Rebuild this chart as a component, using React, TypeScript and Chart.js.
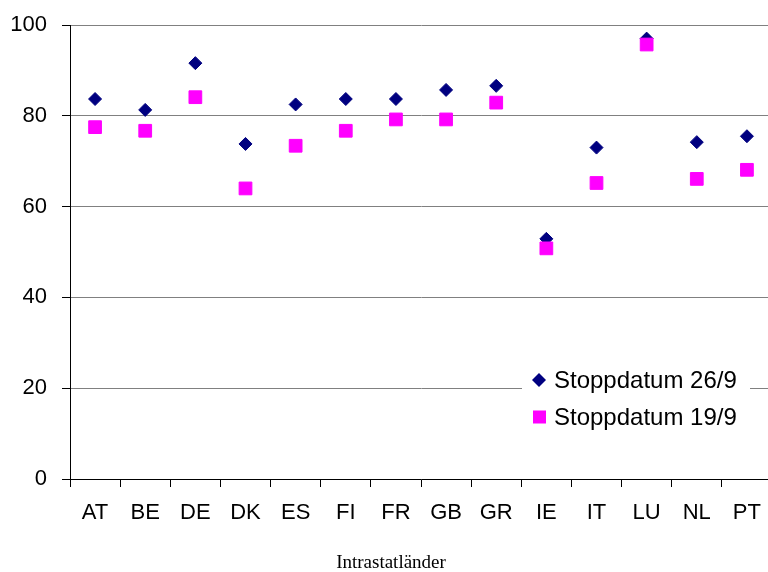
import React, { useEffect, useRef } from "react";
import { Chart, registerables } from "chart.js";

Chart.register(...registerables);

const categories = ["AT", "BE", "DE", "DK", "ES", "FI", "FR", "GB", "GR", "IE", "IT", "LU", "NL", "PT"];
const stopp269 = [83.7, 81.3, 91.6, 73.8, 82.5, 83.7, 83.7, 85.7, 86.6, 52.9, 73.0, 97.0, 74.2, 75.5];
const stopp199 = [77.5, 76.7, 84.1, 64.0, 73.4, 76.7, 79.2, 79.2, 82.9, 50.8, 65.2, 95.7, 66.1, 68.1];
const seriesNames = ["Stoppdatum 26/9", "Stoppdatum 19/9"];
const yTicks = [0, 20, 40, 60, 80, 100];
const xTitle = "Intrastatländer";

const NAVY = "#000080";
const MAGENTA = "#FF00FF";
const SANS = "'Liberation Sans', Arial, sans-serif";
const CANVAS_W = 782;

const overlayPlugin = {
  id: "overlay",
  afterDraw(chart: any) {
    const ctx = chart.ctx;
    ctx.save();
    // legend box
    ctx.fillStyle = "#ffffff";
    ctx.fillRect(522, 362, 228, 74);
    const items = [
      { label: seriesNames[0], color: NAVY, style: "diamond", y: 380 },
      { label: seriesNames[1], color: MAGENTA, style: "square", y: 417 },
    ];
    ctx.font = `24px ${SANS}`;
    ctx.textBaseline = "middle";
    ctx.textAlign = "left";
    for (const it of items) {
      ctx.fillStyle = it.color;
      if (it.style === "diamond") {
        ctx.beginPath();
        ctx.moveTo(539 - 7, it.y);
        ctx.lineTo(539, it.y - 7);
        ctx.lineTo(539 + 7, it.y);
        ctx.lineTo(539, it.y + 7);
        ctx.closePath();
        ctx.fill();
      } else {
        ctx.fillRect(533, it.y - 6.5, 13, 13);
      }
      ctx.fillStyle = "#000";
      ctx.fillText(it.label, 554, it.y + 1);
    }
    // axis title
    ctx.font = `19px 'Liberation Serif', 'Times New Roman', serif`;
    ctx.textAlign = "center";
    ctx.fillStyle = "#000";
    ctx.fillText(xTitle, 391, 563);
    ctx.restore();
  },
};

export default function App() {
  const ref = useRef<HTMLCanvasElement | null>(null);
  useEffect(() => {
    if (!ref.current) return;
    const chart = new Chart(ref.current, {
      type: "line",
      data: {
        labels: categories,
        datasets: [
          {
            label: seriesNames[0],
            data: stopp269,
            showLine: false,
            pointStyle: "rectRot",
            pointRadius: 6.5,
            pointHoverRadius: 6.5,
            backgroundColor: NAVY,
            borderColor: NAVY,
            pointBorderWidth: 1,
            order: 2,
          },
          {
            label: seriesNames[1],
            data: stopp199,
            showLine: false,
            pointStyle: "rect",
            pointRadius: 9,
            pointHoverRadius: 9,
            backgroundColor: MAGENTA,
            borderColor: MAGENTA,
            pointBorderWidth: 1,
            order: 1,
          },
        ],
      },
      options: {
        animation: false,
        responsive: false,
        maintainAspectRatio: false,
        layout: { padding: { top: 25, right: 0, bottom: 0, left: 0 } },
        plugins: {
          legend: { display: false },
          tooltip: { enabled: false },
          title: { display: false },
        },
        scales: {
          x: {
            type: "category",
            offset: true,
            grid: {
              display: true,
              offset: true,
              drawOnChartArea: false,
              tickLength: 8,
              tickColor: "#000",
              color: "#000",
            },
            border: { display: true, color: "#000", width: 1 },
            ticks: {
              color: "#000",
              font: { family: SANS, size: 22 },
              padding: 13,
              maxRotation: 0,
              autoSkip: false,
            },
            afterFit: (scale: any) => {
              scale.height = 93;
              scale.paddingLeft = 0;
              scale.paddingRight = 0;
            },
          },
          y: {
            min: 0,
            max: 100,
            afterBuildTicks: (scale: any) => {
              scale.ticks = yTicks.map((v) => ({ value: v }));
            },
            grid: {
              color: "#808080",
              tickLength: 8,
              tickColor: "#000",
            },
            border: { display: true, color: "#000", width: 1 },
            ticks: {
              color: "#000",
              font: { family: SANS, size: 22 },
              padding: 15,
            },
            afterFit: (scale: any) => {
              scale.width = 70;
              scale.paddingTop = 0;
              scale.paddingBottom = 0;
            },
          },
        },
      },
      plugins: [overlayPlugin],
    });
    return () => chart.destroy();
  }, []);
  return (
    <div style={{ position: "fixed", left: 0, top: 0, width: 768, height: 572, overflow: "hidden", background: "#fff" }}>
      <canvas ref={ref} width={CANVAS_W} height={572} style={{ width: CANVAS_W, height: 572, display: "block" }} />
    </div>
  );
}
